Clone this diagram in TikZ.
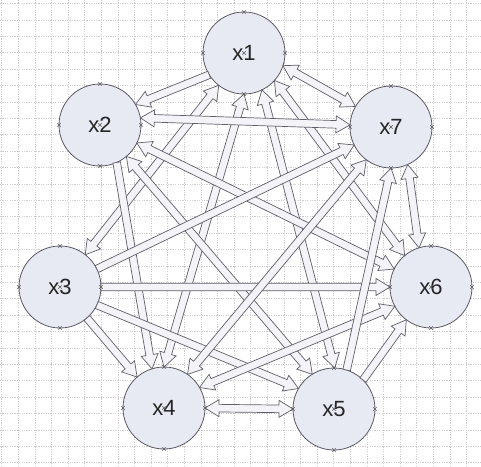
\documentclass[tikz,border=0pt]{standalone}
\usepackage{fontspec}
\setmainfont{Liberation Sans}
\usetikzlibrary{calc,shapes.misc}
\definecolor{circfill}{RGB}{231,233,243}
\definecolor{circline}{RGB}{90,90,100}
\definecolor{arrfill}{RGB}{243,243,248}
\definecolor{arrline}{RGB}{95,95,105}
\definecolor{gridcol}{RGB}{205,205,205}
\newcommand{\baw}{3.8pt}
\newcommand{\bhw}{8.5pt}
\newcommand{\bhl}{14pt}
\newcommand{\arrone}[2]{%
  \coordinate (bs) at (#1);
  \coordinate (be) at (#2);
  \coordinate (bh) at ($(be)!\bhl!(bs)$);
  \filldraw[blockarrow] ($(bs)!\baw!90:(be)$) -- ($(bh)!\baw!90:(be)$) -- ($(bh)!\bhw!90:(be)$) -- (be)
    -- ($(bh)!\bhw!-90:(be)$) -- ($(bh)!\baw!-90:(be)$) -- ($(bs)!\baw!-90:(be)$) -- cycle;}
\newcommand{\arrtwo}[2]{%
  \coordinate (bs) at (#1);
  \coordinate (be) at (#2);
  \coordinate (bg) at ($(bs)!\bhl!(be)$);
  \coordinate (bh) at ($(be)!\bhl!(bs)$);
  \filldraw[blockarrow] (bs) -- ($(bg)!\bhw!90:(be)$) -- ($(bg)!\baw!90:(be)$) -- ($(bh)!\baw!90:(be)$)
    -- ($(bh)!\bhw!90:(be)$) -- (be) -- ($(bh)!\bhw!-90:(be)$) -- ($(bh)!\baw!-90:(be)$)
    -- ($(bg)!\baw!-90:(be)$) -- ($(bg)!\bhw!-90:(be)$) -- cycle;}
\tikzset{
  cnode/.style={circle, draw=circline, fill=circfill, line width=0.8pt, minimum size=82pt,
    inner sep=0pt, outer sep=0pt, text=black!85, font=\fontsize{22}{22}\selectfont},
  blockarrow/.style={fill=arrfill, draw=arrline, line width=0.7pt},
  gridline/.style={draw=gridcol, line width=0.5pt, dash pattern=on 1.2pt off 1.2pt},
  cmark/.style={cross out, draw=black!65, line width=0.4pt, minimum size=3pt, inner sep=0pt}
}
\begin{document}
\begin{tikzpicture}[x=1pt, y=-1pt]
\useasboundingbox (0,0) rectangle (481,466);
\fill[white] (0,0) rectangle (481,466);
\foreach \i in {0,...,28} { \draw[gridline] (1.6+16.6*\i,0) -- (1.6+16.6*\i,466); }
\foreach \i in {0,...,28} { \draw[gridline] (0,3.5+16.4*\i) -- (481,3.5+16.4*\i); }
% nodes
\node[cnode] (x1) at (244,53) {x1};
\node[cnode] (x2) at (100,125) {x2};
\node[cnode] (x7) at (391,127) {x7};
\node[cnode] (x3) at (60,287) {x3};
\node[cnode] (x6) at (431,287) {x6};
\node[cnode] (x4) at (164,408) {x4};
\node[cnode] (x5) at (334,409) {x5};
% connectors
\arrone{x1.212}{x2.30}
\arrtwo{x1.232}{x3.52}
\arrtwo{x1.270}{x4.90}
\arrtwo{x1.296}{x5.89}
\arrtwo{x1.318}{x6.130}
\arrtwo{x1.342}{x7.150}
\arrtwo{x2.10}{x7.177}
\arrtwo{x2.-26}{x6.154}
\arrtwo{x2.-50}{x5.122}
\arrone{x2.-66}{x4.107}
\arrone{x3.-49}{x4.131}
\arrone{x3.-26}{x5.150}
\arrone{x3.0}{x6.180}
\arrone{x3.26}{x7.206}
\arrtwo{x4.0}{x5.180}
\arrtwo{x4.30}{x6.208}
\arrtwo{x4.55}{x7.233}
\arrone{x5.45}{x6.233}
\arrone{x5.72}{x7.270}
\arrtwo{x6.107}{x7.294}
% connection point marks
\foreach \n in {x1,x2,x3,x4,x5,x6,x7} {
  \foreach \a in {center,north,south,east,west} { \node[cmark] at (\n.\a) {}; }
}
\end{tikzpicture}
\end{document}
